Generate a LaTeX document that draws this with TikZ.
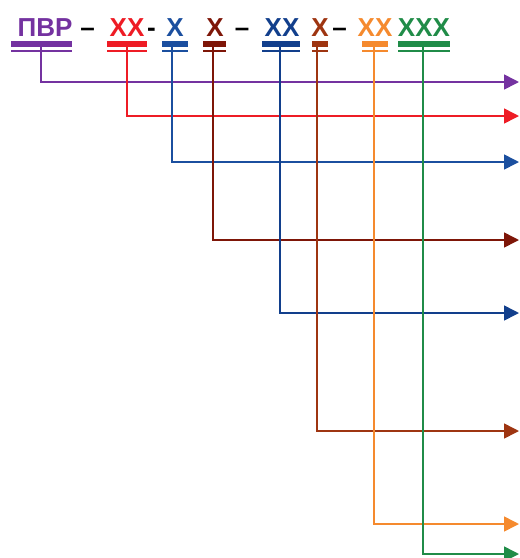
\documentclass[tikz,border=0pt]{standalone}
\usepackage{fontspec}
\setmainfont{Liberation Sans}
\usetikzlibrary{arrows.meta}
\definecolor{cpur}{HTML}{7432A0}
\definecolor{cred}{HTML}{EE1C25}
\definecolor{cblue}{HTML}{1B4F9F}
\definecolor{cdred}{HTML}{7E1608}
\definecolor{cdblue}{HTML}{123F8C}
\definecolor{cbrown}{HTML}{9E3511}
\definecolor{corange}{HTML}{F58A2E}
\definecolor{cgreen}{HTML}{208C48}
\begin{document}
\begin{tikzpicture}[x=1pt,y=1pt,
  lbl/.style={font=\fontsize{26}{26}\selectfont\bfseries, anchor=base, inner sep=0pt},
  bar/.style={draw=none, inner sep=0pt, minimum height=6pt, anchor=north},
  conn/.style={line width=1.6pt, -{Triangle[length=15pt,width=15pt]}},
]
\useasboundingbox (0,0) rectangle (520,-558);
% labels
\node[lbl, text=cpur]   (t1) at (45,-36)  {ПВР};
\node[lbl, text=black]  (d1) at (87.5,-36) {–};
\node[lbl, text=cred]   (t2) at (127,-36) {XX};
\node[lbl, text=black]  (d2) at (151.5,-36) {-};
\node[lbl, text=cblue]  (t3) at (175,-36) {X};
\node[lbl, text=cdred]  (t4) at (215,-36) {X};
\node[lbl, text=black]  (d3) at (242,-36) {–};
\node[lbl, text=cdblue] (t5) at (282,-36) {XX};
\node[lbl, text=cbrown] (t6) at (320,-36) {X};
\node[lbl, text=black]  (d4) at (339.5,-36) {–};
\node[lbl, text=corange](t7) at (375,-36) {XX};
\node[lbl, text=cgreen] (t8) at (424,-36) {XXX};
% bars
\node[bar, fill=cpur,    minimum width=61pt] (b1) at (41.5,-40.5) {};
\node[bar, fill=cred,    minimum width=40pt] (b2) at (127,-40.5) {};
\node[bar, fill=cblue,   minimum width=26pt] (b3) at (175,-40.5) {};
\node[bar, fill=cdred,   minimum width=23pt] (b4) at (214.5,-40.5) {};
\node[bar, fill=cdblue,  minimum width=38pt] (b5) at (281,-40.5) {};
\node[bar, fill=cbrown,  minimum width=16pt] (b6) at (320,-40.5) {};
\node[bar, fill=corange, minimum width=26pt] (b7) at (375,-40.5) {};
\node[bar, fill=cgreen,  minimum width=52pt] (b8) at (424,-40.5) {};
% thin lines under bars
\fill[cpur]    ([yshift=-3.5pt]b1.south west) rectangle ([yshift=-5.5pt]b1.south east);
\fill[cred]    ([yshift=-3.5pt]b2.south west) rectangle ([yshift=-5.5pt]b2.south east);
\fill[cblue]   ([yshift=-3.5pt]b3.south west) rectangle ([yshift=-5.5pt]b3.south east);
\fill[cdred]   ([yshift=-3.5pt]b4.south west) rectangle ([yshift=-5.5pt]b4.south east);
\fill[cdblue]  ([yshift=-3.5pt]b5.south west) rectangle ([yshift=-5.5pt]b5.south east);
\fill[cbrown]  ([yshift=-3.5pt]b6.south west) rectangle ([yshift=-5.5pt]b6.south east);
\fill[corange] ([yshift=-3.5pt]b7.south west) rectangle ([yshift=-5.5pt]b7.south east);
\fill[cgreen]  ([yshift=-3.5pt]b8.south west) rectangle ([yshift=-5.5pt]b8.south east);
% connector ends
\coordinate (e1) at (519,-82);
\coordinate (e2) at (519,-116);
\coordinate (e3) at (519,-162);
\coordinate (e4) at (519,-240);
\coordinate (e5) at (519,-313);
\coordinate (e6) at (519,-431);
\coordinate (e7) at (519,-524);
\coordinate (e8) at (519,-554);
% connectors
\draw[conn, cpur]    ([xshift=-0.5pt]b1.south) |- (e1);
\draw[conn, cred]    (b2.south) |- (e2);
\draw[conn, cblue]   ([xshift=-3pt]b3.south) |- (e3);
\draw[conn, cdred]   ([xshift=-1.5pt]b4.south) |- (e4);
\draw[conn, cdblue]  ([xshift=-1pt]b5.south) |- (e5);
\draw[conn, cbrown]  ([xshift=-3pt]b6.south) |- (e6);
\draw[conn, corange] ([xshift=-1pt]b7.south) |- (e7);
\draw[conn, cgreen]  ([xshift=-1pt]b8.south) |- (e8);
\end{tikzpicture}
\end{document}
